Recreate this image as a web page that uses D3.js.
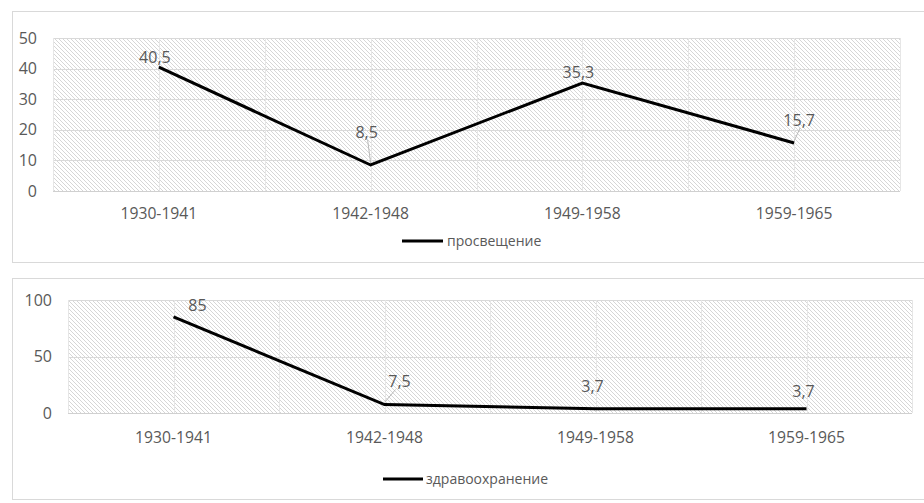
<!DOCTYPE html>
<html><head><meta charset="utf-8">
<script src="https://cdn.jsdelivr.net/npm/d3@7"></script>
<style>
html,body{margin:0;padding:0;background:#fff;}
text{font-family:"Open Sans",sans-serif;fill:#595959;}
</style></head>
<body><svg id="c" width="924" height="503"></svg>
<script>
const categories = ["1930-1941","1942-1948","1949-1958","1959-1965"];
const educationValues = [40.5, 8.5, 35.3, 15.7];
const healthValues = [85, 7.5, 3.7, 3.7];
const educationTicks = [0,10,20,30,40,50];
const healthTicks = [0,50,100];
const seriesNames = ["просвещение","здравоохранение"];
const valueLabels1 = ["40,5","8,5","35,3","15,7"];
const valueLabels2 = ["85","7,5","3,7","3,7"];

// layout (not data)
const panels = [
  {box:[12,11,930,262], plot:[53,38,900,191], values:educationValues, ticks:educationTicks, max:50,
   name:seriesNames[0], labels:valueLabels1,
   lab:[[-4,-10,false],[-4,-33,true],[-4,-11,false],[5,-23,true]],
   xLabY:213, legY:241, legX:402, legLen:41, legGap:4},
  {box:[12,278,930,499], plot:[68,300,912,413], values:healthValues, ticks:healthTicks, max:100,
   name:seriesNames[1], labels:valueLabels2,
   lab:[[24,-12,false],[15,-23,true],[-3,-22,false],[-3,-17,false]],
   xLabY:437, legY:479, legX:383, legLen:40, legGap:3}
];

const svg = d3.select("#c");
const defs = svg.append("defs");
const pat = defs.append("pattern").attr("id","hatch").attr("patternUnits","userSpaceOnUse")
  .attr("width",4).attr("height",4);
pat.append("rect").attr("width",4).attr("height",4).attr("fill","#fff");
pat.append("path").attr("d","M-1,-1 L5,5 M-1,3 L1,5 M3,-1 L5,1")
  .attr("stroke","#d6d6d6").attr("stroke-width",1);

panels.forEach(p=>{
  const [bx0,by0,bx1,by1]=p.box;
  svg.append("rect").attr("x",bx0+0.5).attr("y",by0+0.5).attr("width",bx1-bx0).attr("height",by1-by0)
    .attr("fill","#fff").attr("stroke","#d9d9d9");
  const [x0,y0,x1,y1]=p.plot;
  const x = d3.scaleBand().domain(categories).range([x0,x1]);
  const y = d3.scaleLinear().domain([0,p.max]).range([y1,y0]);
  const g = svg.append("g");
  g.append("rect").attr("x",x0).attr("y",y0).attr("width",x1-x0).attr("height",y1-y0).attr("fill","url(#hatch)");
  // gridlines
  g.selectAll(".hg").data(p.ticks).join("line")
    .attr("x1",x0).attr("x2",x1).attr("y1",d=>Math.round(y(d))+0.5).attr("y2",d=>Math.round(y(d))+0.5)
    .attr("stroke",d=>d===0?"#d0d0d0":"#d9d9d9").attr("stroke-width",1);
  const vlines = categories.map(c=>x(c)).concat(categories.map(c=>x(c)+x.bandwidth()/2)).concat([x1]);
  g.selectAll(".vg").data(vlines).join("line")
    .attr("x1",d=>Math.round(d)+0.5).attr("x2",d=>Math.round(d)+0.5).attr("y1",y0).attr("y2",y1)
    .attr("stroke","#e6e6e6").attr("stroke-width",1);
  // y axis
  const ya = d3.axisLeft(y).tickValues(p.ticks).tickSize(0).tickPadding(0).tickFormat(d3.format("d"));
  const yg = g.append("g").attr("transform",`translate(${x0-16},0)`).call(ya);
  yg.select(".domain").remove();
  yg.selectAll("text").attr("font-size",16).attr("font-family","Open Sans").attr("fill","#595959");
  // x axis
  const xa = d3.axisBottom(x).tickSize(0).tickPadding(0);
  const xg = g.append("g").attr("transform",`translate(0,${p.xLabY})`).call(xa);
  xg.select(".domain").remove();
  xg.selectAll("text").attr("font-size",15.7).attr("font-family","Open Sans").attr("fill","#595959").attr("dy","0.35em");
  // line
  const pts = categories.map((c,i)=>[x(c)+x.bandwidth()/2, y(p.values[i])]);
  g.append("path").attr("d",d3.line()(pts)).attr("fill","none").attr("stroke","#000").attr("stroke-width",3)
    .attr("stroke-linejoin","miter");
  // data labels
  pts.forEach((pt,i)=>{
    const [dx,dy,leader]=p.lab[i];
    const lx=pt[0]+dx, ly=pt[1]+dy;
    if(leader){
      g.append("line").attr("x1",lx+(dx>8?-4:1)).attr("y1",ly+8).attr("x2",pt[0]).attr("y2",pt[1]-2)
        .attr("stroke","#b8b8b8").attr("stroke-width",1);
    }
    g.append("text").attr("x",lx).attr("y",ly).attr("dy","0.35em").attr("text-anchor","middle")
      .attr("font-size",16).text(p.labels[i]);
  });
  // legend
  g.append("line").attr("x1",p.legX).attr("x2",p.legX+p.legLen).attr("y1",p.legY).attr("y2",p.legY)
    .attr("stroke","#000").attr("stroke-width",3);
  g.append("text").attr("x",p.legX+p.legLen+p.legGap).attr("y",p.legY).attr("dy","0.35em").attr("font-size",14).text(p.name);
});
</script></body></html>
